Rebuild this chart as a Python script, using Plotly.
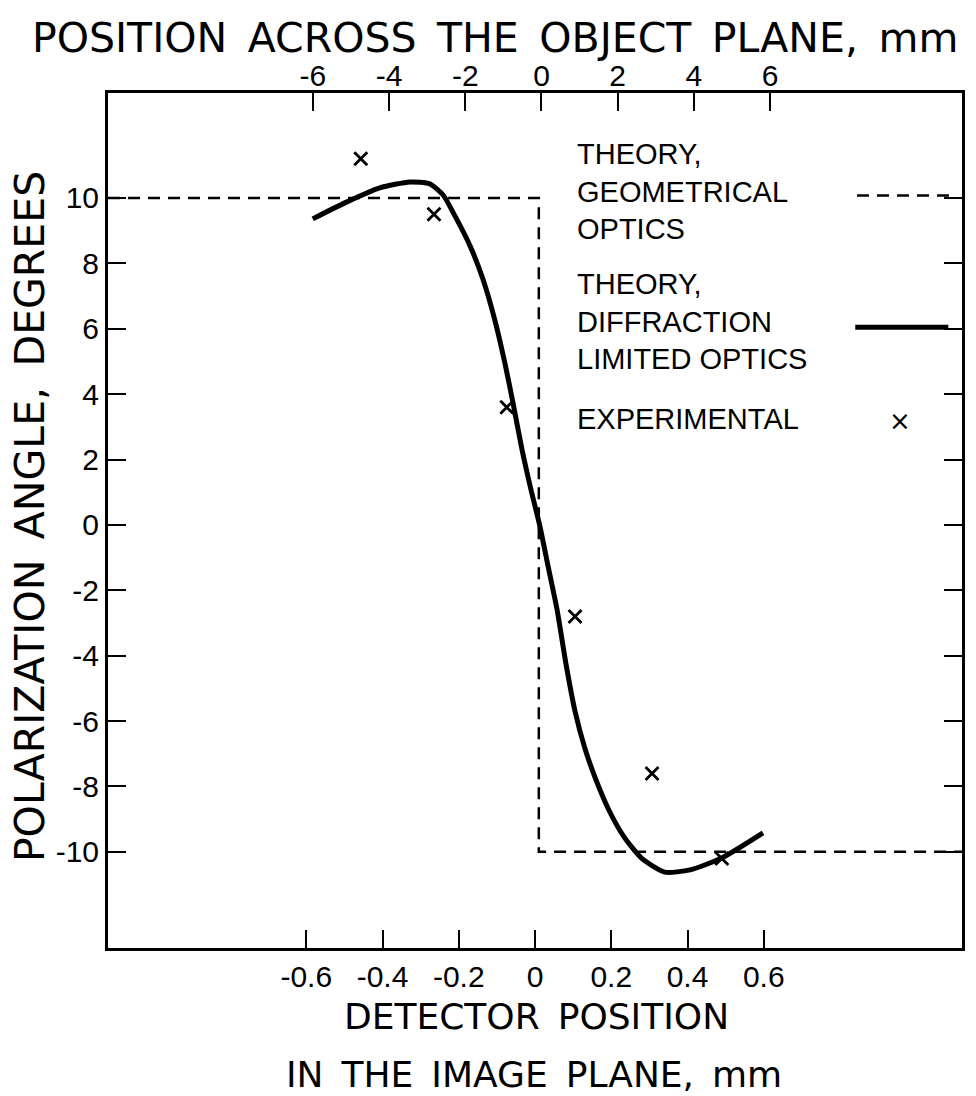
import plotly.graph_objects as go

# Diffraction-limited theory curve (detector position, mm ; polarization angle, deg)
curve_x = [-0.583, -0.499, -0.407, -0.328, -0.276, -0.241, -0.210, -0.171, -0.136,
           -0.105, -0.079, -0.058, -0.034, -0.011, 0.012, 0.035, 0.058, 0.082,
           0.105, 0.13, 0.16, 0.195, 0.234, 0.28, 0.34, 0.407, 0.491, 0.598]
curve_y = [9.36, 9.85, 10.31, 10.49, 10.43, 10.09, 9.45, 8.55, 7.5,
           6.25, 4.95, 3.75, 2.3, 1.1, 0.0, -1.3, -2.6, -4.3,
           -5.7, -6.8, -7.8, -8.75, -9.55, -10.2, -10.62, -10.55, -10.18, -9.42]

# Geometrical optics theory (step)
geo_x = [-1.12, 0.01, 0.01, 1.12]
geo_y = [10, 10, -10, -10]

# Experimental points
exp_x = [-0.457, -0.265, -0.074, 0.105, 0.307, 0.49]
exp_y = [11.2, 9.5, 3.6, -2.8, -7.6, -10.2]

# Axes ticks
bottom_ticks = [-0.6, -0.4, -0.2, 0, 0.2, 0.4, 0.6]
bottom_labels = ["-0.6", "-0.4", "-0.2", "0", "0.2", "0.4", "0.6"]
top_ticks = [-6, -4, -2, 0, 2, 4, 6]
top_labels = ["-6", "-4", "-2", "0", "2", "4", "6"]
y_ticks = [-10, -8, -6, -4, -2, 0, 2, 4, 6, 8, 10]
y_labels = ["-10", "-8", "-6", "-4", "-2", "0", "2", "4", "6", "8", "10"]

TITLE_FONT = dict(family="DejaVu Sans", size=41, color="black")
YTITLE_FONT = dict(family="DejaVu Sans", size=41, color="black")
BOTTOM_FONT = dict(family="DejaVu Sans", size=36, color="black")
TICK_FONT = dict(family="Liberation Sans", size=30, color="black")
LEG_FONT = dict(family="Liberation Sans", size=29, color="black")
SP = "\u2002"

fig = go.Figure()
fig.add_trace(go.Scatter(x=geo_x, y=geo_y, mode="lines",
                         line=dict(color="black", width=2.5, dash="12px,8px"),
                         showlegend=False, hoverinfo="skip"))
fig.add_trace(go.Scatter(x=curve_x, y=curve_y, mode="lines",
                         line=dict(color="black", width=5, shape="spline", smoothing=0.6),
                         showlegend=False))
fig.add_trace(go.Scatter(x=exp_x, y=exp_y, mode="markers",
                         marker=dict(symbol="x-thin", size=13, color="black",
                                     line=dict(color="black", width=2.8)),
                         showlegend=False))
# invisible trace to activate the top axis
fig.add_trace(go.Scatter(x=top_ticks, y=[0] * len(top_ticks), xaxis="x2", mode="markers",
                         marker=dict(opacity=0), showlegend=False, hoverinfo="skip"))

fig.update_layout(
    width=976, height=1096,
    margin=dict(l=108, r=14, t=93, b=148),
    paper_bgcolor="white", plot_bgcolor="white",
    xaxis=dict(range=[-1.12, 1.12], tickvals=bottom_ticks, ticktext=bottom_labels,
               ticks="inside", ticklen=18, tickwidth=2, tickcolor="black",
               showline=True, linewidth=3, linecolor="black", mirror=True,
               showgrid=False, zeroline=False, tickfont=TICK_FONT),
    xaxis2=dict(range=[-11.38, 11.04], overlaying="x", side="top",
                tickvals=top_ticks, ticktext=top_labels,
                ticks="inside", ticklen=18, tickwidth=2, tickcolor="black",
                showline=False, showgrid=False, zeroline=False, tickfont=TICK_FONT),
    yaxis=dict(range=[-12.94, 13.21], tickvals=y_ticks, ticktext=y_labels,
               ticks="inside", ticklen=18, tickwidth=2, tickcolor="black",
               showline=True, linewidth=3, linecolor="black", mirror="ticks",
               showgrid=False, zeroline=False, tickfont=TICK_FONT),
)

def ann(text, x, y, font, xanchor="center", yanchor="middle", angle=0, align="center"):
    fig.add_annotation(text=text, x=x, y=y, xref="paper", yref="paper",
                       xanchor=xanchor, yanchor=yanchor, showarrow=False,
                       font=font, textangle=angle, align=align)

ann(SP.join(["POSITION", "ACROSS", "THE", "OBJECT", "PLANE,", "mm"]), 0.453, 1.064, TITLE_FONT)
ann(SP.join(["POLARIZATION", "ANGLE,", "DEGREES"]), -0.0913, 0.504, YTITLE_FONT, angle=-90)
ann(SP.join(["DETECTOR", "POSITION"]), 0.502, -0.0807, BOTTOM_FONT)
ann(SP.join(["IN", "THE", "IMAGE", "PLANE,", "mm"]), 0.499, -0.1485, BOTTOM_FONT)

leg_groups = [("THEORY,<br>GEOMETRICAL<br>OPTICS", 0.885),
              ("THEORY,<br>DIFFRACTION<br>LIMITED OPTICS", 0.733),
              ("EXPERIMENTAL", 0.619)]
for t, yy in leg_groups:
    ann(t, 0.547, yy, LEG_FONT, xanchor="left", align="left")

fig.add_shape(type="line", xref="paper", yref="paper", x0=0.877, x1=0.988, y0=0.880, y1=0.880,
              line=dict(color="black", width=2.5, dash="12px,8px"))
fig.add_shape(type="line", xref="paper", yref="paper", x0=0.875, x1=0.984, y0=0.726, y1=0.726,
              line=dict(color="black", width=5))
ann("×", 0.927, 0.616, dict(family="DejaVu Sans", size=26, color="black"))

fig.write_html("out.html")
